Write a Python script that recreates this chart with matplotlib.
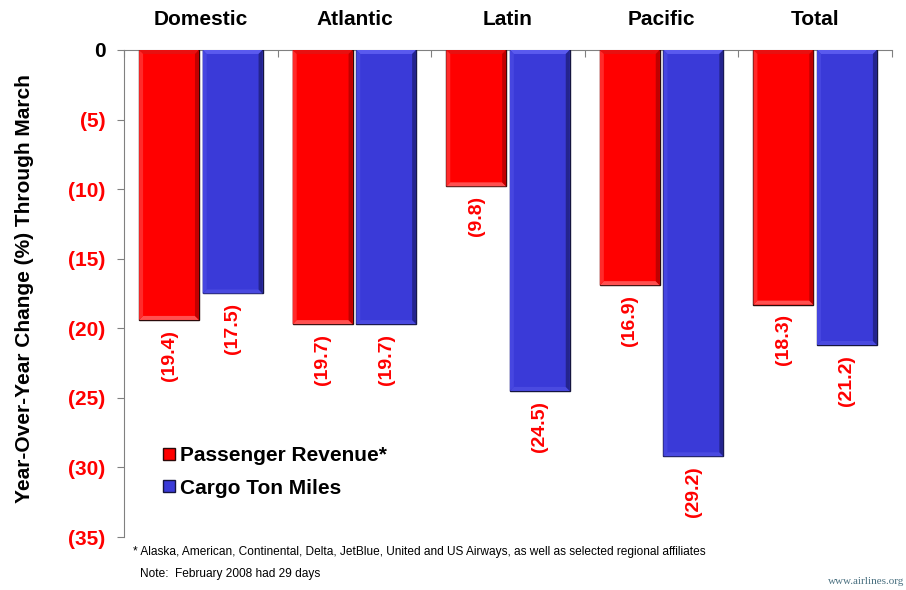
import matplotlib
matplotlib.use("Agg")
import matplotlib.pyplot as plt
from matplotlib.patches import Polygon
import numpy as np

plt.rcParams['font.family'] = ['Liberation Sans', 'DejaVu Sans']

categories = ["Domestic", "Atlantic", "Latin", "Pacific", "Total"]
passenger_revenue = [-19.4, -19.7, -9.8, -16.9, -18.3]
cargo_ton_miles = [-17.5, -19.7, -24.5, -29.2, -21.2]
series_names = ["Passenger Revenue*", "Cargo Ton Miles"]
y_ticks = [0, -5, -10, -15, -20, -25, -30, -35]

RED = "#FF0000"
BLUE = "#3A3AD8"

fig = plt.figure(figsize=(9.06, 5.90), dpi=100)
ax = fig.add_axes([0.1369, 0.0898, 0.8476, 0.8255])

x = np.arange(len(categories))
w = 0.39
off = 0.207
red_bars = ax.bar(x - off, passenger_revenue, w, color=RED, edgecolor="#2a0a0a",
                  linewidth=1.0, label=series_names[0], zorder=3)
blue_bars = ax.bar(x + off, cargo_ton_miles, w, color=BLUE, edgecolor="#15153f",
                   linewidth=1.0, label=series_names[1], zorder=3)

ax.set_xlim(-0.5, 4.5)
ax.set_ylim(-35, 0)


def bevel(bar, top, bottom, left, right, px=4):
    """Shade the four inner edges of a bar to give it a raised look."""
    # bevel depth in data units, from the axes' own scale
    inv = ax.transData.inverted()
    (x_a, y_a), (x_b, y_b) = inv.transform([(0, 0), (px, px)])
    dx, dy = abs(x_b - x_a), abs(y_b - y_a)
    x0, x1 = bar.get_x(), bar.get_x() + bar.get_width()
    y0 = bar.get_y()
    y1 = y0 + bar.get_height()
    ytop, ybot = max(y0, y1), min(y0, y1)
    strips = [
        ([(x0, ytop), (x1, ytop), (x1 - dx, ytop - dy), (x0 + dx, ytop - dy)], top),
        ([(x0, ybot), (x1, ybot), (x1 - dx, ybot + dy), (x0 + dx, ybot + dy)], bottom),
        ([(x0, ytop), (x0, ybot), (x0 + dx, ybot + dy), (x0 + dx, ytop - dy)], left),
        ([(x1, ytop), (x1, ybot), (x1 - dx, ybot + dy), (x1 - dx, ytop - dy)], right),
    ]
    for pts, col in strips:
        ax.add_patch(Polygon(pts, closed=True, facecolor=col, edgecolor="none",
                             zorder=3.5))


for b in red_bars:
    bevel(b, top="#e81010", bottom="#ff5050", left="#ff2a2a", right="#c00000")
for b in blue_bars:
    bevel(b, top="#5a5aee", bottom="#4a4ae0", left="#4646e0", right="#24248e")


def fmt(v):
    return f"({abs(v):.1f})"


for xs, vals in ((x - off, passenger_revenue), (x + off, cargo_ton_miles)):
    for xi, v in zip(xs, vals):
        ax.text(xi, v - 0.7, fmt(v), rotation=90, ha="center", va="top",
                color="red", fontsize=14, fontweight="bold")

# y axis: parenthesised negatives in red, zero in black
ax.set_yticks(y_ticks)
ax.set_yticklabels(["0" if t == 0 else f"({abs(t)})" for t in y_ticks],
                   fontsize=15, fontweight="bold")
for lbl, t in zip(ax.get_yticklabels(), y_ticks):
    lbl.set_color("black" if t == 0 else "red")
ax.tick_params(axis="y", direction="out", length=5, color="#808080", pad=8.5)

# category boundaries on the zero line, names above the plot
ax.xaxis.set_ticks_position("top")
ax.set_xticks(np.arange(-0.5, 5.0, 1.0))
ax.set_xticklabels([])
ax.tick_params(axis="x", direction="in", length=5, color="#808080")
for xi, name in zip(x, categories):
    ax.text(xi, 1.062, name, transform=ax.get_xaxis_transform(), ha="center",
            va="center", fontsize=15, fontweight="bold")

for s in ["right", "bottom"]:
    ax.spines[s].set_visible(False)
ax.spines["left"].set_color("#808080")
ax.spines["top"].set_color("#808080")

ax.set_ylabel("Year-Over-Year Change (%) Through March", fontsize=15,
              fontweight="bold")
ax.yaxis.set_label_coords(-0.129, 0.511)
ax.yaxis.label.set_verticalalignment("center")

leg = ax.legend(loc="center left", bbox_to_anchor=(0.040, 0.1335), borderaxespad=0,
                frameon=False, prop={"size": 15, "weight": "bold"},
                handlelength=0.55, handleheight=0.55, handletextpad=0.25,
                labelspacing=0.63)

fig.text(0.147, 1 - 552 / 590, "* Alaska, American, Continental, Delta, JetBlue, United and US Airways, as well as selected regional affiliates",
         fontsize=8.6, ha="left", va="center")
fig.text(0.155, 1 - 574 / 590, "Note:  February 2008 had 29 days", fontsize=8.6,
         ha="left", va="center")
fig.text(0.998, 1 - 582 / 590, "www.airlines.org", fontsize=8, family="Liberation Serif",
         color="#4a7080", ha="right", va="center")

fig.savefig("out.png", dpi=100)
